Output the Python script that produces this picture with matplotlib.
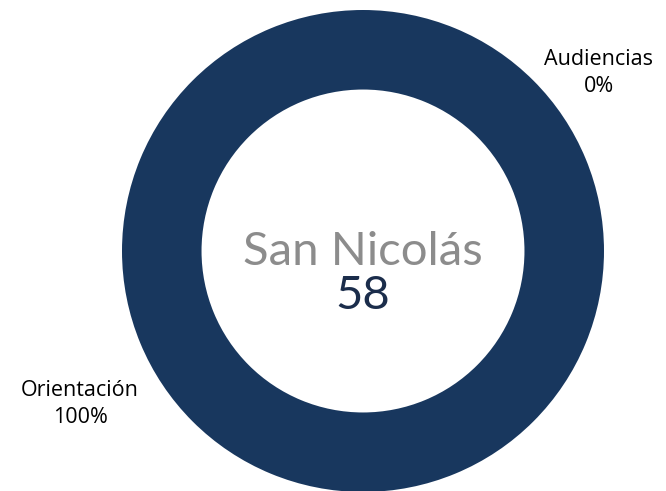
import matplotlib
matplotlib.use("Agg")
import matplotlib.pyplot as plt

categories = ["Orientación", "Audiencias"]
values = [58, 0]
percent_labels = ["100%", "0%"]
center_title = "San Nicolás"
center_total = "58"

W, H = 666, 491
fig = plt.figure(figsize=(W / 100, H / 100), dpi=100)
ax = fig.add_axes([0, 0, 1, 1])

cx, cy, R = 363, H - 251, 241
ax.pie(values, colors=["#18375E", "#4F81BD"], radius=R, center=(cx, cy),
       startangle=90, counterclock=False, frame=True,
       wedgeprops=dict(width=R * 0.33, edgecolor="none", linewidth=0))
ax.set_xlim(0, W)
ax.set_ylim(0, H)
ax.set_aspect("equal")
ax.axis("off")

label_pos = [(80, H - 404), (599, H - 73)]
for cat, pct, (x, y) in zip(categories, percent_labels, label_pos):
    ax.text(x, y, f"{cat}\n{pct}", ha="center", va="center", fontsize=15.5,
            family="Open Sans", color="black", linespacing=1.4)

ax.text(cx, H - 252, center_title, ha="center", va="center", fontsize=34,
        family="Lato", fontweight="normal", color="#8C8C8C")
ax.text(cx, H - 296, center_total, ha="center", va="center", fontsize=34,
        family="Lato", fontweight="normal", color="#1B2D4B")

fig.savefig("out.png", dpi=100)
